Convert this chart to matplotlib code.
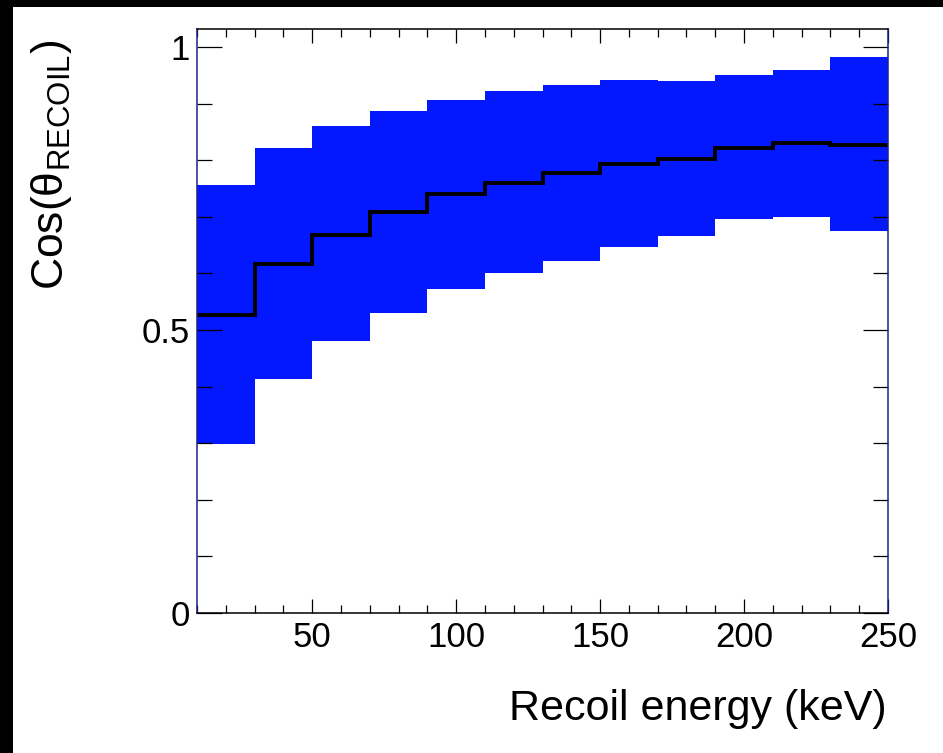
import numpy as np
import matplotlib
matplotlib.use("Agg")
import matplotlib.pyplot as plt
from matplotlib.patches import Rectangle
from matplotlib.ticker import MultipleLocator

plt.rcParams['font.family'] = ['Liberation Sans', 'DejaVu Sans']
plt.rcParams['mathtext.fontset'] = 'custom'
plt.rcParams['mathtext.rm'] = 'Liberation Sans'
plt.rcParams['mathtext.it'] = 'Liberation Sans:italic'

# recoil energy bins (keV)
edges = [10, 30, 50, 70, 90, 110, 130, 150, 170, 190, 210, 230, 250]
# mean cos(theta_recoil) per bin and the spread band
mean_cos = [0.527, 0.616, 0.668, 0.708, 0.740, 0.760, 0.777, 0.793, 0.802, 0.822, 0.831, 0.827]
band_hi = [0.756, 0.821, 0.860, 0.887, 0.906, 0.922, 0.933, 0.942, 0.940, 0.951, 0.959, 0.983]
band_lo = [0.298, 0.413, 0.481, 0.531, 0.573, 0.601, 0.622, 0.647, 0.666, 0.696, 0.699, 0.675]

W, H = 943, 753
fig = plt.figure(figsize=(W / 100, H / 100), dpi=100, facecolor='white')
# black strips along the top and left edges of the canvas
fig.patches.append(Rectangle((0, 1 - 7 / H), 1, 7 / H, transform=fig.transFigure,
                             facecolor='black', edgecolor='none'))
fig.patches.append(Rectangle((0, 0), 13 / W, 1, transform=fig.transFigure,
                             facecolor='black', edgecolor='none'))

ax = fig.add_axes([197 / W, (H - 613) / H, (888 - 197) / W, (613 - 29) / H])
ax.stairs(band_hi, edges, baseline=band_lo, fill=True, color='#0418ff', lw=0)
ax.stairs(mean_cos, edges, baseline=None, color='black', lw=2.8)

ax.set_xlim(10, 250)
ax.set_ylim(0, 1.032)
ax.xaxis.set_major_locator(MultipleLocator(50))
ax.xaxis.set_minor_locator(MultipleLocator(10))
ax.yaxis.set_major_locator(MultipleLocator(0.5))
ax.yaxis.set_minor_locator(MultipleLocator(0.1))
ax.yaxis.set_major_formatter(plt.FuncFormatter(lambda v, p: '%g' % v))

ax.tick_params(axis='both', which='both', direction='in', top=True, right=True,
               width=0.9, color='black', labelsize=25)
ax.tick_params(axis='x', which='major', length=10, pad=6)
ax.tick_params(axis='x', which='minor', length=6)
ax.tick_params(axis='y', which='major', length=18, pad=5)
ax.tick_params(axis='y', which='minor', length=11)

for side in ('left', 'right'):
    ax.spines[side].set_color('#20208a')
for side in ('top', 'bottom'):
    ax.spines[side].set_color('black')
for s in ax.spines.values():
    s.set_linewidth(1.1)

fig.text(887 / W, (H - 720) / H, 'Recoil energy (keV)', ha='right', va='baseline', fontsize=31)
fig.text(52 / W, (H - 290) / H, r'Cos($\mathrm{θ}_{\mathrm{RECOIL}}$)', rotation=90,
         ha='center', va='bottom', fontsize=32)

fig.savefig('out.png', dpi=100, facecolor=fig.get_facecolor())
